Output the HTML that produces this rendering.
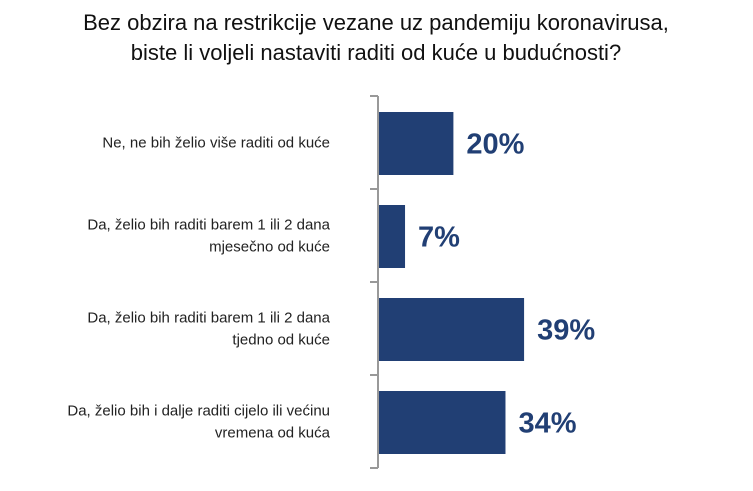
<!DOCTYPE html>
<html><head><meta charset="utf-8"><style>
body{margin:0;background:#fff;font-family:"Liberation Sans",sans-serif}
</style></head><body>
<svg width="753" height="486" xmlns="http://www.w3.org/2000/svg">
<text x="376" y="30" text-anchor="middle" font-size="22" fill="#111" font-family="Liberation Sans, sans-serif">Bez obzira na restrikcije vezane uz pandemiju koronavirusa,</text>
<text x="376" y="60" text-anchor="middle" font-size="22" fill="#111" font-family="Liberation Sans, sans-serif">biste li voljeli nastaviti raditi od kuće u budućnosti?</text>
<g id="plot"></g>
</svg>
<script>
const categories=[["Ne, ne bih želio više raditi od kuće"],["Da, želio bih raditi barem 1 ili 2 dana","mjesečno od kuće"],["Da, želio bih raditi barem 1 ili 2 dana","tjedno od kuće"],["Da, želio bih i dalje raditi cijelo ili većinu","vremena od kuća"]];
const values=[20,7,39,34];
const valueLabels=["20%","7%","39%","34%"];
const NS="http://www.w3.org/2000/svg";
const plotG=document.getElementById('plot');
const x0=379, pxPer=3.72, plotTop=96, band=93, barH=63;
const xs=v=>x0+v*pxPer;
const yb=i=>plotTop+i*band;
function mk(t,a){const e=document.createElementNS(NS,t);for(const k in a)e.setAttribute(k,a[k]);plotG.appendChild(e);return e;}
const ax=mk('line',{x1:378,y1:plotTop,x2:378,y2:plotTop+band*categories.length,stroke:'#999','stroke-width':2});


for(let i=0;i<=categories.length;i++){
 const t=mk('line',{x1:370,x2:378,y1:yb(i),y2:yb(i),stroke:'#999','stroke-width':2});
 
 
}
values.forEach((v,i)=>{
 const y=yb(i)+(band-barH)/2+1;
 const r=mk('rect',{x:x0,y:y,width:xs(v)-x0,height:barH,fill:'#213f74'});
 
 
 const tv=mk('text',{x:xs(v)+13,y:y+barH/2+10,'font-size':29,'font-weight':'bold',fill:'#213f74','font-family':'Liberation Sans, sans-serif'});
 tv.textContent=valueLabels[i];
 
 
 const lines=categories[i];
 lines.forEach((ln,j)=>{
  const c=yb(i)+band/2+5+(j-(lines.length-1)/2)*22;
  const tl=mk('text',{x:330,y:c,'text-anchor':'end','font-size':15,fill:'#222','font-family':'Liberation Sans, sans-serif'});
  tl.textContent=ln;
  
  
 });
});
</script>
</body></html>
